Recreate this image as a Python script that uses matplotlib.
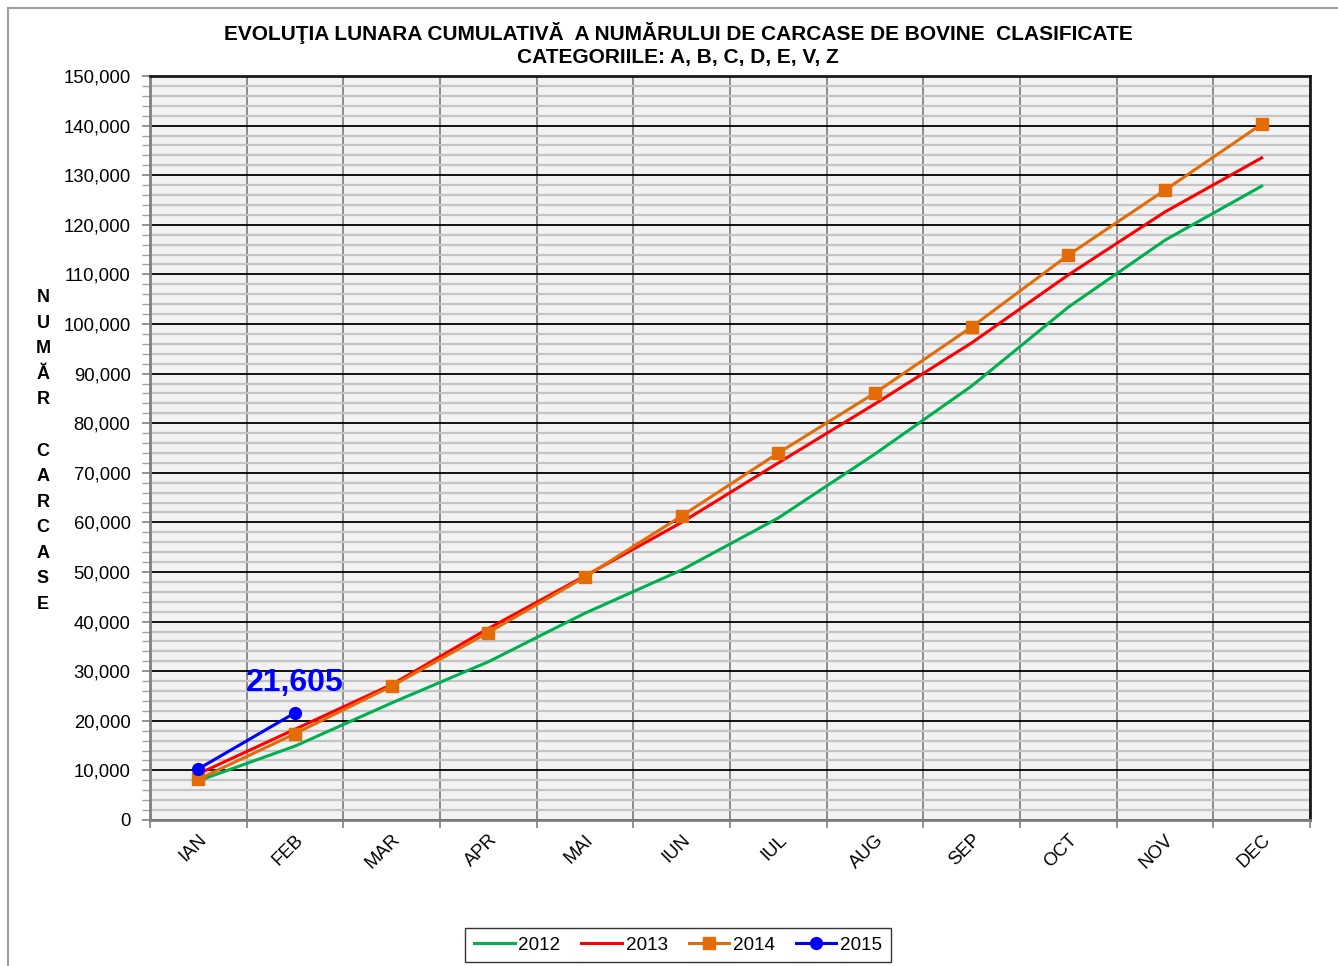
import matplotlib
matplotlib.use("Agg")
import matplotlib.pyplot as plt
from matplotlib.ticker import MultipleLocator, FuncFormatter, FixedLocator
from matplotlib.lines import Line2D

plt.rcParams['font.family'] = ['Liberation Sans', 'DejaVu Sans']

months = ["IAN", "FEB", "MAR", "APR", "MAI", "IUN", "IUL", "AUG", "SEP", "OCT", "NOV", "DEC"]
v2012 = [7900, 14900, 23600, 31900, 41700, 50400, 60900, 73800, 87500, 103400, 116900, 127800]
v2013 = [9300, 18300, 27300, 38600, 49200, 60000, 72000, 83900, 96200, 109900, 122600, 133500]
v2014 = [8200, 17400, 27000, 37800, 49000, 61300, 74000, 86100, 99400, 113900, 127000, 140300]
v2015 = [10300, 21605]
series_labels = ["2012", "2013", "2014", "2015"]
title_lines = ["EVOLUŢIA LUNARA CUMULATIVĂ  A NUMĂRULUI DE CARCASE DE BOVINE  CLASIFICATE",
               "CATEGORIILE: A, B, C, D, E, V, Z"]
ylabel_letters = list("NUMĂR") + [""] + list("CARCASE")

W, H = 1338, 966
fig = plt.figure(figsize=(W / 100, H / 100), dpi=100)
fig.patch.set_facecolor("white")

x0, x1, y0, y1 = 150, 1310, 76, 820
ax = fig.add_axes([x0 / W, 1 - y1 / H, (x1 - x0) / W, (y1 - y0) / H])
ax.set_facecolor("#f2f2f2")

n = len(months)
xs = list(range(n))
ax.set_xlim(-0.5, n - 0.5)
ax.set_ylim(0, 150000)

# grid
ax.yaxis.set_major_locator(MultipleLocator(10000))
ax.yaxis.set_minor_locator(MultipleLocator(2000))
ax.yaxis.set_major_formatter(FuncFormatter(lambda v, p: f"{int(v):,}"))
ax.xaxis.set_major_locator(FixedLocator(xs))
ax.xaxis.set_minor_locator(FixedLocator([i - 0.5 for i in range(n + 1)]))
ax.set_xticklabels(months)

ax.grid(which="minor", axis="y", color="#c4c4c4", linewidth=1.6, zorder=0)
ax.grid(which="major", axis="y", color="#000000", linewidth=1.3, zorder=1)
ax.grid(which="minor", axis="x", color="#8c8c8c", linewidth=1.4, zorder=1)
ax.set_axisbelow(True)

ax.tick_params(axis="y", which="major", length=6, width=1.2, color="#808080",
               labelsize=13.3, pad=8, direction="out")
ax.tick_params(axis="y", which="minor", length=6, width=1.0, color="#a0a0a0", direction="out")
ax.tick_params(axis="x", which="major", length=0, labelsize=13.3, pad=8)
ax.tick_params(axis="x", which="minor", length=6, width=1.2, color="#808080", direction="out")
for lbl in ax.get_xticklabels():
    lbl.set_rotation(45)
    lbl.set_ha("right")
    lbl.set_va("top")
    lbl.set_rotation_mode("anchor")

for s in ["left", "bottom"]:
    ax.spines[s].set_color("#808080")
    ax.spines[s].set_linewidth(2.0)
for s in ["top", "right"]:
    ax.spines[s].set_color("#1a1a1a")
    ax.spines[s].set_linewidth(2.0)

lw = 2.2
ax.plot(xs, v2012, color="#00b050", linewidth=lw, zorder=3, label=series_labels[0])
ax.plot(xs, v2013, color="#ff0000", linewidth=lw, zorder=4, label=series_labels[1])
ax.plot(xs, v2014, color="#e36c09", linewidth=lw, marker="s", markersize=8,
        zorder=5, label=series_labels[2])
ax.plot(xs[:len(v2015)], v2015, color="#0000ff", linewidth=lw, marker="o", markersize=8.5,
        zorder=6, label=series_labels[3])
ax.annotate(f"{v2015[-1]:,}", xy=(len(v2015) - 1, v2015[-1]), xytext=(0, 11),
            textcoords="offset points", ha="center", va="bottom",
            fontsize=23, fontweight="bold", color="#0000ff", zorder=7)

# title
fig.text(678 / W, 1 - 33 / H, title_lines[0], ha="center", va="center",
         fontsize=15, fontweight="bold")
fig.text(678 / W, 1 - 58 / H, title_lines[1], ha="center", va="center",
         fontsize=15, fontweight="bold")

# vertical stacked y label
fig.text(43 / W, 1 - 451 / H, "\n".join(ylabel_letters), ha="center", va="center",
         fontsize=13, fontweight="bold", linespacing=1.66)

# legend
handles, labels = ax.get_legend_handles_labels()
leg = fig.legend(handles, labels, loc="center", bbox_to_anchor=(678 / W, 1 - 945 / H),
                 ncol=4, fontsize=13.6, frameon=True, fancybox=False, edgecolor="black",
                 handlelength=2.15, columnspacing=1.1, handletextpad=0.2,
                 borderpad=0.45)
leg.get_frame().set_linewidth(1.0)

# outer chart-area frame (partially visible)
fig.add_artist(Line2D([8 / W, 1.0], [1 - 8 / H, 1 - 8 / H], color="#a0a0a0", linewidth=1.5))
fig.add_artist(Line2D([8 / W, 8 / W], [1 - 8 / H, 0.0], color="#a0a0a0", linewidth=1.5))

fig.savefig("out.png", dpi=100, facecolor="white")
